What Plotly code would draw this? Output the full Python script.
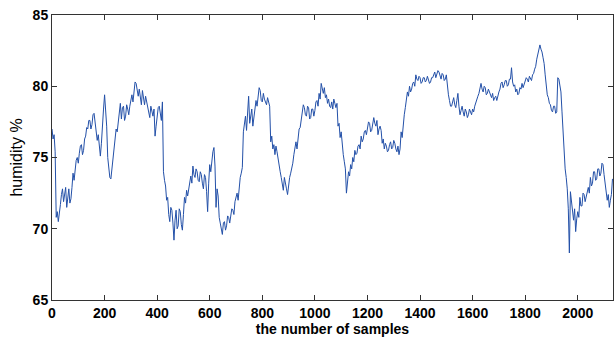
import plotly.graph_objects as go

step = 4
humidity = [
    77.0, 76.3, 76.6, 75.4, 70.8, 71.2, 70.5, 71.4, 71.7, 72.4, 72.8, 71.9, 72.3, 72.9, 71.5, 72.3, 72.8, 71.8, 72.1, 72.9,
    73.9, 73.4, 74.2, 74.8, 75.0, 74.6, 75.3, 75.8, 75.9, 75.2, 75.5, 76.3, 76.5, 77.1, 77.0, 77.6, 77.6, 77.0, 77.3, 78.0,
    78.1, 77.4, 77.0, 76.2, 76.6, 75.6, 75.1, 76.0, 76.9, 78.4, 79.4, 78.2, 77.2, 75.0, 74.0, 73.6, 73.5, 74.2, 74.5, 75.6,
    76.4, 77.0, 76.8, 77.6, 78.2, 78.8, 77.7, 78.5, 78.6, 77.6, 77.9, 78.7, 78.4, 78.0, 78.6, 79.0, 79.4, 78.9, 79.7, 80.3,
    80.2, 79.6, 79.3, 79.8, 79.1, 78.7, 79.7, 79.2, 78.7, 79.3, 78.9, 78.4, 78.1, 77.8, 78.6, 78.2, 77.9, 78.4, 76.5, 77.2,
    78.0, 78.5, 78.6, 77.9, 77.6, 78.9, 74.0, 73.4, 73.0, 72.0, 72.2, 71.0, 70.5, 71.5, 71.3, 70.4, 69.2, 70.6, 71.3, 70.0,
    70.2, 71.4, 71.2, 70.3, 69.9, 71.0, 72.2, 71.8, 72.7, 72.3, 72.9, 73.4, 73.7, 73.2, 74.4, 73.8, 73.6, 74.2, 74.0, 73.4,
    73.3, 74.0, 73.8, 73.2, 72.8, 73.8, 73.6, 72.6, 71.2, 73.2, 74.5, 74.0, 75.0, 75.4, 75.7, 74.4, 71.5, 72.8, 72.3, 70.8,
    70.4, 70.0, 69.6, 70.4, 70.5, 69.9, 70.2, 70.9, 70.8, 70.4, 71.0, 71.4, 71.3, 71.0, 71.9, 72.2, 72.5, 72.0, 73.2, 73.6,
    73.9, 74.3, 76.8, 77.5, 77.9, 76.9, 78.5, 79.3, 77.4, 78.0, 78.4, 77.2, 77.8, 78.6, 79.0, 78.6, 79.4, 79.9, 79.7, 79.0,
    78.9, 79.5, 79.1, 78.8, 78.7, 79.2, 78.9, 78.6, 76.1, 76.5, 75.6, 75.9, 75.2, 75.8, 75.4, 74.8, 74.3, 74.0, 73.6, 73.1,
    72.7, 73.6, 73.3, 72.8, 72.4, 73.3, 73.6, 73.9, 74.2, 74.6, 75.2, 75.7, 76.1, 75.6, 76.6, 77.0, 77.1, 77.8, 78.2, 78.7,
    78.5, 78.0, 77.9, 78.6, 78.5, 77.7, 77.8, 78.4, 78.4, 77.9, 78.3, 78.9, 79.0, 78.6, 79.5, 79.1, 80.2, 79.7, 79.5, 79.9,
    79.2, 79.4, 78.8, 79.1, 78.6, 78.5, 78.9, 78.4, 79.1, 78.8, 78.5, 78.8, 77.2, 77.4, 76.4, 76.8, 75.6, 75.2, 74.7, 74.2,
    72.5, 73.3, 74.0, 73.7, 74.5, 74.2, 75.0, 74.7, 75.5, 75.2, 75.3, 75.8, 75.9, 75.6, 76.5, 76.1, 76.3, 76.8, 76.9, 76.6,
    77.0, 77.5, 77.4, 76.8, 76.9, 77.5, 77.8, 77.4, 77.2, 77.6, 76.6, 77.0, 77.2, 76.9, 76.0, 76.3, 75.6, 76.0, 75.8, 75.4,
    75.5, 75.9, 76.1, 75.6, 75.7, 76.2, 76.0, 75.6, 75.4, 75.8, 75.2, 75.6, 76.8, 76.4, 77.4, 78.0, 78.5, 79.2, 79.6, 79.3,
    80.0, 79.6, 79.8, 80.2, 80.3, 80.0, 80.8, 80.5, 80.4, 80.7, 80.6, 80.2, 80.3, 80.6, 80.6, 80.3, 80.4, 80.7, 80.5, 80.2,
    80.3, 80.6, 80.6, 80.9, 81.0, 80.6, 80.8, 81.1, 81.0, 80.7, 80.5, 80.9, 80.8, 80.4, 80.5, 80.8, 79.8, 79.4, 79.0, 78.6,
    78.6, 79.0, 79.2, 78.7, 78.5, 79.0, 79.5, 78.6, 78.0, 78.3, 78.6, 78.2, 77.9, 78.4, 78.2, 77.8, 78.0, 78.4, 78.2, 78.0,
    78.4, 78.2, 78.6, 78.9, 79.0, 79.3, 79.5, 79.8, 80.2, 79.8, 79.6, 80.0, 79.9, 79.4, 79.5, 79.8, 79.6, 79.3, 79.2, 79.5,
    79.0, 79.2, 79.3, 79.0, 79.4, 79.6, 79.8, 80.2, 80.3, 79.9, 80.1, 80.4, 80.4, 80.0, 80.1, 80.5, 80.5, 81.3, 80.3, 80.0,
    80.1, 79.6, 79.8, 79.4, 79.5, 79.9, 79.8, 80.2, 79.9, 80.1, 80.3, 80.6, 80.5, 80.3, 80.7, 80.5, 80.4, 80.8, 80.9, 81.2,
    81.4, 81.9, 82.2, 82.6, 82.9, 82.6, 82.4, 82.0, 81.6, 80.8, 79.9, 79.4, 79.2, 78.8, 78.7, 78.3, 78.2, 78.6, 78.6, 78.1,
    78.2, 80.6, 80.5, 80.0, 79.6, 78.2, 76.5, 75.2, 74.2, 73.6, 72.8, 71.4, 68.3, 72.6, 71.9, 71.0, 70.6, 71.4, 69.8, 70.7,
    71.2, 70.8, 72.2, 71.6, 71.6, 72.5, 72.4, 71.9, 72.2, 72.7, 72.9, 72.5, 73.6, 73.0, 73.2, 74.0, 74.0, 73.4, 73.5, 74.2,
    74.2, 73.7, 73.9, 74.6, 74.5, 73.8, 73.1, 72.6, 72.0, 72.4, 71.5, 72.0, 72.4, 73.5,
]
samples = [i * step for i in range(len(humidity))]

x_ticks = [0, 200, 400, 600, 800, 1000, 1200, 1400, 1600, 1800, 2000]
y_ticks = [65, 70, 75, 80, 85]

fig = go.Figure()
fig.add_trace(go.Scatter(x=samples, y=humidity, mode="lines",
                         line=dict(color="#2350A8", width=1),
                         showlegend=False, hoverinfo="skip"))

axis_common = dict(
    showline=True, linecolor="#333333", linewidth=1,
    mirror="allticks", ticks="inside", ticklen=5, tickcolor="#333333",
    showgrid=False, zeroline=False,
    tickfont=dict(family="Liberation Sans, Arial", size=14, color="black", weight="bold"),
)

fig.update_layout(
    width=614, height=338,
    margin=dict(l=52, r=1, t=15, b=38),
    paper_bgcolor="white", plot_bgcolor="white",
    xaxis=dict(range=[0, 2134], tickvals=x_ticks,
               title=dict(text="the number of samples", standoff=2,
                          font=dict(family="Liberation Sans, Arial", size=14,
                                    color="black", weight="bold")),
               **axis_common),
    yaxis=dict(range=[65, 85], tickvals=y_ticks,
               title=dict(text="humidity %", standoff=6,
                          font=dict(family="Liberation Sans, Arial", size=16,
                                    color="black")),
               **axis_common),
)

fig.write_html("out.html")
